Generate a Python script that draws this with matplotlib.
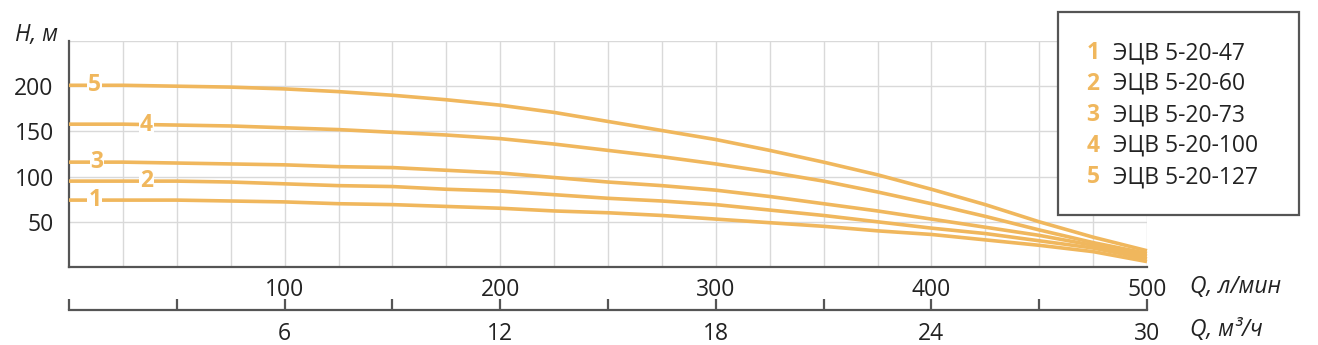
import numpy as np
import matplotlib
matplotlib.use("Agg")
import matplotlib.pyplot as plt
from matplotlib.patches import Rectangle

plt.rcParams['font.family'] = ['Open Sans', 'DejaVu Sans']

# flow, l/min
q_lmin = [0, 25, 50, 75, 100, 125, 150, 175, 200, 225, 250,
          275, 300, 325, 350, 375, 400, 425, 450, 475, 500]

# head, m
h_1 = [74, 74, 74, 73, 72, 70, 69, 67, 65, 62, 60,
       57, 53, 49, 45, 40, 36, 30, 24, 17, 6]
h_2 = [95, 95, 95, 94, 92, 90, 89, 86, 84, 80, 76,
       73, 69, 63, 57, 50, 43, 37, 29, 21, 9]
h_3 = [116, 116, 115, 114, 113, 111, 110, 107, 104, 99, 94,
       90, 85, 78, 70, 62, 53, 44, 35, 24, 12]
h_4 = [158, 158, 157, 156, 154, 152, 149, 146, 142, 136, 129,
       122, 114, 105, 95, 83, 70, 56, 41, 27, 15]
h_5 = [201, 201, 200, 199, 197, 194, 190, 185, 179, 171, 161,
       151, 141, 129, 116, 102, 86, 69, 50, 33, 18]

curve_ids = ['1', '2', '3', '4', '5']
model_names = ['ЭЦВ 5-20-47', 'ЭЦВ 5-20-60', 'ЭЦВ 5-20-73',
               'ЭЦВ 5-20-100', 'ЭЦВ 5-20-127']
label_q = [12, 36, 13, 36, 12]

y_ticks = [50, 100, 150, 200]
lmin_ticks = [100, 200, 300, 400, 500]
m3h_labels = ['6', '12', '18', '24', '30']

orange = '#F0B75D'
grid_c = '#D9D9D9'
spine_c = '#555555'
text_c = '#222222'
fs = 16.5

W, H = 1318, 345
fig = plt.figure(figsize=(W / 100, H / 100), dpi=100)

x0, x1 = 69, 1147
y0, y1 = 267, 41
ax = fig.add_axes([x0 / W, (H - y0) / H, (x1 - x0) / W, (y0 - y1) / H])
ax.set_xlim(0, 500)
ax.set_ylim(0, 250)

ax.set_xticks(np.arange(25, 501, 25), minor=True)
ax.set_yticks([250], minor=True)
ax.grid(which='both', color=grid_c, lw=1)
ax.set_axisbelow(True)

ax.set_yticks(y_ticks)
ax.set_yticklabels([str(v) for v in y_ticks])
ax.set_xticks(lmin_ticks)
ax.set_xticklabels([str(v) for v in lmin_ticks])
ax.tick_params(axis='both', which='both', length=0, labelsize=fs,
               labelcolor=text_c)
ax.tick_params(axis='y', pad=11)
ax.tick_params(axis='x', pad=8)

for s in ['top', 'right']:
    ax.spines[s].set_visible(False)
for s in ['left', 'bottom']:
    ax.spines[s].set_color(spine_c)
    ax.spines[s].set_linewidth(1.6)

series = [h_1, h_2, h_3, h_4, h_5]
for hs, cid, lq in zip(series, curve_ids, label_q):
    ax.plot(q_lmin, hs, color=orange, lw=2.6, solid_capstyle='butt',
            solid_joinstyle='round', clip_on=False, zorder=3)
    ly = np.interp(lq, q_lmin, hs)
    ax.text(lq, ly, cid, color=orange, fontsize=fs, fontweight='bold',
            ha='center', va='center', zorder=4,
            bbox=dict(facecolor='white', edgecolor='none', pad=0.6))

fig.text(15 / W, (H - 35) / H, 'H, м', fontsize=fs, style='italic',
         color=text_c, ha='left', va='center')

# second flow scale, m3/h
ys = 310
ax2 = fig.add_axes([x0 / W, (H - ys) / H, (x1 - x0) / W, 0.05])
ax2.set_facecolor('none')
ax2.set_xlim(0, 500)
ax2.set_yticks([])
for s in ['top', 'right', 'left']:
    ax2.spines[s].set_visible(False)
ax2.spines['bottom'].set_color(spine_c)
ax2.spines['bottom'].set_linewidth(1.6)
ax2.set_xticks(np.arange(0, 501, 50))
ax2.set_xticklabels(['' if i % 2 else (m3h_labels[i // 2 - 1] if i else '')
                     for i in range(11)])
ax2.tick_params(axis='x', direction='in', length=8, width=1.6,
                color=spine_c, labelsize=fs, labelcolor=text_c, pad=9)

fig.text(1190 / W, (H - 287) / H, 'Q, л/мин', fontsize=fs, style='italic',
         color=text_c, ha='left', va='center')
fig.text(1190 / W, (H - 330) / H, 'Q, м³/ч', fontsize=fs, style='italic',
         color=text_c, ha='left', va='center')

# legend box
lx0, lx1, ly0, ly1 = 1058, 1299, 12, 215
fig.patches.append(Rectangle((lx0 / W, (H - ly1) / H), (lx1 - lx0) / W,
                             (ly1 - ly0) / H, transform=fig.transFigure,
                             facecolor='white', edgecolor=spine_c, lw=1.6,
                             zorder=5))
row_y = [53, 84, 115, 146, 177]
for cid, name, ry in zip(curve_ids, model_names, row_y):
    fig.text(1093 / W, (H - ry) / H, cid, fontsize=fs, fontweight='bold',
             color=orange, ha='center', va='center', zorder=6)
    fig.text(1113 / W, (H - ry) / H, name, fontsize=fs, color=text_c,
             ha='left', va='center', zorder=6)

fig.savefig('out.png', dpi=100, facecolor='white')
